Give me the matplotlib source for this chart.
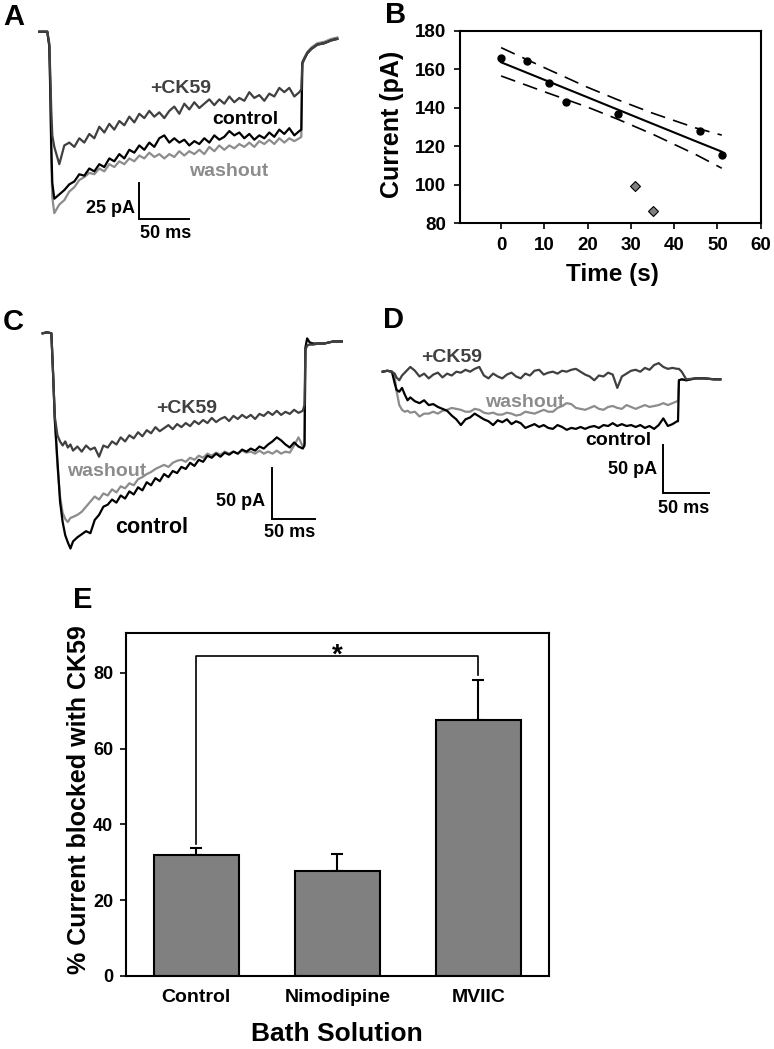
import matplotlib
matplotlib.use('Agg')
import matplotlib.pyplot as plt

# === DATA ===
# Panel A traces: time (ms) and current (pA)
T_A = [0, 4, 8, 10, 11, 12, 13,
       15, 20, 25, 30, 35, 40, 45, 50, 55, 60,
       65, 70, 75, 80, 85, 90, 95, 100, 105, 110,
       115, 120, 125, 130, 135, 140, 145, 150, 155, 160,
       165, 170, 175, 180, 185, 190, 195, 200, 205, 210,
       215, 220, 225, 230, 235, 240, 245, 250, 255, 260,
       262, 263, 265, 268, 272, 278, 285, 292, 298]
CK59_A = [0, 0, 0, -8, -30, -55, -72,
          -80, -92, -79, -77, -80, -74, -77, -71, -74, -66,
          -70, -64, -68, -62, -65, -59, -63, -57, -60, -55,
          -59, -56, -60, -55, -52, -57, -50, -54, -49, -53,
          -50, -47, -51, -47, -50, -45, -49, -46, -48, -42,
          -46, -44, -48, -43, -45, -39, -42, -39, -45, -42,
          -40, -22, -19, -15, -12, -9, -8, -6, -5]
CTRL_A = [0, 0, 0, -10, -40, -80, -105,
          -116, -113, -110, -106, -104, -99, -100, -95, -97, -92,
          -94, -88, -90, -85, -88, -82, -84, -79, -82, -77,
          -80, -74, -72, -77, -74, -77, -75, -79, -76, -78,
          -74, -77, -72, -75, -73, -69, -72, -70, -74, -71,
          -75, -72, -74, -70, -73, -68, -71, -67, -72, -69,
          -68, -22, -19, -15, -12, -9, -8, -6, -5]
WASH_A = [0, 0, 0, -10, -45, -90, -115,
          -126, -120, -117, -111, -108, -103, -101, -98, -99, -95,
          -97, -92, -94, -90, -92, -88, -90, -86, -88, -84,
          -87, -85, -88, -85, -87, -83, -86, -83, -85, -82,
          -85, -80, -83, -79, -82, -79, -81, -78, -80, -77,
          -80, -76, -78, -75, -78, -74, -77, -74, -76, -74,
          -73, -21, -18, -14, -11, -8, -7, -5, -4]

# Panel C traces
T_C = [0, 5, 10, 12, 14, 17, 20, 23, 26, 29, 32, 35,
       40, 45, 50, 55, 60, 65, 70, 75, 80, 85,
       90, 95, 100, 105, 110, 115, 120, 125, 130, 135,
       140, 145, 150, 155, 160, 165, 170, 175, 180, 185,
       190, 195, 200, 205, 210, 215, 220, 225, 230, 235,
       240, 245, 250, 255, 260, 265, 270, 275, 280, 285,
       290, 295, 300,
       302, 303, 305, 308, 312, 318, 325, 335, 345]
CK59_C = [0, 1, 0, -40, -82, -100, -106, -110, -106, -112, -109, -115,
          -111, -116, -110, -114, -112, -121, -110, -112, -106, -109,
          -102, -106, -100, -103, -97, -101, -95, -98, -92, -96,
          -93, -90, -94, -89, -92, -88, -91, -86, -89, -85,
          -88, -83, -87, -84, -82, -86, -81, -84, -80, -83,
          -80, -84, -79, -81, -77, -80, -76, -80, -77, -79,
          -75, -78, -76,
          -70, -16, -12, -11, -11, -10, -10, -8, -8]
CTRL_C = [0, 1, 0, -40, -85, -125, -165, -185, -198, -205, -211, -204,
          -200, -197, -194, -196, -183, -178, -170, -168, -163, -166,
          -159, -162, -155, -158, -151, -154, -146, -149, -142, -145,
          -138, -141, -135, -137, -131, -133, -127, -130, -124, -126,
          -120, -122, -118, -121, -117, -119, -116, -118, -114, -116,
          -113, -115, -111, -113, -109, -106, -102, -105, -109, -112,
          -107, -111, -113,
          -110, -14, -5, -9, -10, -10, -10, -8, -8]
WASH_C = [0, 1, 0, -40, -85, -130, -160, -176, -182, -185, -181, -180,
          -178, -175, -170, -165, -160, -163, -157, -159, -153, -156,
          -150, -152, -147, -149, -143, -141, -138, -136, -133, -131,
          -129, -131, -127, -125, -124, -126, -122, -124, -120, -122,
          -118, -120, -117, -119, -116, -118, -116, -118, -115, -117,
          -116, -118, -115, -118, -116, -118, -115, -118, -116, -117,
          -110, -102, -111,
          -108, -16, -12, -11, -11, -10, -10, -8, -8]

# Panel D traces
T_D = [0, 5, 10, 13, 15, 18, 21, 24, 27, 30,
       35, 40, 45, 50, 55, 60, 65, 70, 75, 80,
       85, 90, 95, 100, 105, 110, 115, 120, 125, 130,
       135, 140, 145, 150, 155, 160, 165, 170, 175, 180,
       185, 190, 195, 200, 205, 210, 215, 220, 225, 230,
       235, 240, 245, 250, 255, 260, 265, 270, 275, 280,
       285, 290, 295, 300, 305, 310, 315, 320,
       321, 322, 325, 330, 340, 350, 360, 367]
CK59_D = [0, 1, 0, -2, -6, -9, -4, -1, 2, 5,
          1, -5, -2, -7, -3, -1, -6, -2, -4, 0,
          -1, 2, 0, 3, 5, -4, -7, -2, -5, -7,
          -3, -1, -5, -7, -2, -4, 1, 2, -3, -1,
          0, -2, 1, 0, 2, 3, 0, -3, -5, -9,
          -4, -5, -1, -3, -17, -5, -2, 1, 2, 0,
          4, 2, 7, 9, 5, 3, 4, 3,
          3, 3, 0, -8, -7, -7, -8, -8]
CTRL_D = [0, 1, 0, -12, -19, -21, -17, -24, -30, -27,
          -31, -33, -30, -35, -34, -37, -39, -41, -46, -50,
          -56, -50, -48, -44, -47, -50, -52, -56, -51, -53,
          -50, -55, -52, -54, -59, -57, -55, -58, -56, -59,
          -60, -56, -58, -61, -59, -60, -58, -60, -58, -57,
          -59, -56, -57, -54, -57, -55, -57, -56, -58, -56,
          -59, -57, -60, -56, -49, -57, -55, -52,
          -52, -9, -8, -9, -7, -7, -8, -8]
WASH_D = [0, 1, 0, -5, -20, -35, -40, -42, -41, -43,
          -42, -47, -44, -44, -42, -44, -41, -40, -38, -39,
          -40, -42, -42, -39, -40, -43, -44, -43, -45, -45,
          -43, -44, -46, -45, -42, -43, -44, -42, -40, -42,
          -42, -38, -36, -33, -34, -38, -39, -40, -38, -36,
          -39, -40, -37, -36, -38, -39, -35, -37, -39, -37,
          -35, -37, -36, -35, -33, -35, -33, -31,
          -31, -9, -8, -9, -7, -7, -8, -8]

# Scale bars (ms, pA)
SCALE_A = (50, 25)
SCALE_C = (50, 50)
SCALE_D = (50, 50)

# Panel B: current vs time
B_TIME = [0, 6, 11, 15, 27, 46, 51]
B_CURRENT = [165.7, 164.4, 152.8, 143.2, 136.8, 128.1, 115.5]
B_TIME_OUT = [31, 35]
B_CURRENT_OUT = [99.4, 86.3]
FIT_T = [0, 10, 20, 27, 35, 45, 51]
FIT_MID = [163.6, 154.5, 145.4, 139.0, 131.7, 122.6, 117.2]
FIT_UP = [171.2, 160.8, 150.6, 144.1, 137.2, 129.5, 125.8]
FIT_LO = [156.5, 148.3, 140.3, 134.0, 126.3, 115.7, 108.6]

# Panel E: % current blocked
E_GROUPS = ['Control', 'Nimodipine', 'MVIIC']
E_MEAN = [31.8, 27.7, 67.5]
E_SEM = [2.0, 4.6, 10.5]
E_BRACKET_Y = 84.4
# =============

plt.rcParams['font.family'] = ['Liberation Sans', 'DejaVu Sans']
plt.rcParams['font.weight'] = 'bold'
NARROW = ['Liberation Sans Narrow', 'Liberation Sans', 'DejaVu Sans']

DARK = '#404040'
GRAY = '#8c8c8c'
W, H = 774, 1049
fig = plt.figure(figsize=(W / 100, H / 100), dpi=100)


def px_axes(x0, y0, x1, y1):
    return fig.add_axes([x0 / W, 1 - y1 / H, (x1 - x0) / W, (y1 - y0) / H])


def trace_panel(x0, y0, x1, y1, tx0, sx, iy0, sy):
    # tx0/iy0: pixel of t=0 / I=0, sx/sy: pixels per ms / per pA
    ax = px_axes(x0, y0, x1, y1)
    ax.set_xlim((x0 - tx0) / sx, (x1 - tx0) / sx)
    ax.set_ylim(-(y1 - iy0) / sy, -(y0 - iy0) / sy)
    ax.axis('off')
    return ax


def draw_traces(ax, t, ctrl, wash, ck):
    ax.plot(t, wash, color=GRAY, lw=1.6)
    ax.plot(t, ctrl, color='black', lw=1.6)
    ax.plot(t, ck, color=DARK, lw=1.6)


def scale_bar(ax, t0, i0, scale, ylab_t, ylab_i, xlab_t, xlab_i):
    dt, di = scale
    ax.plot([t0, t0, t0 + dt], [i0 + di, i0, i0], color='black', lw=1.4,
            solid_joinstyle='miter')
    ax.text(ylab_t, ylab_i, f'{di} pA', ha='right', va='center', fontsize=13)
    ax.text(xlab_t, xlab_i, f'{dt} ms', ha='center', va='top', fontsize=13)


# --- Panel A ---
axA = trace_panel(30, 20, 350, 240, 39.3, 1.0, 31.7, 1.44)
draw_traces(axA, T_A, CTRL_A, WASH_A, CK59_A)
scale_bar(axA, 99.3, -130.3, SCALE_A, 95.5, -122.7, 126, -134)
axA.text(141, -39.4, '+CK59', color=DARK, ha='center', va='center', fontsize=14)
axA.text(206, -61.3, 'control', color='black', ha='center', va='center', fontsize=14)
axA.text(189, -97, 'washout', color=GRAY, ha='center', va='center', fontsize=14)

# --- Panel C ---
axC = trace_panel(30, 320, 360, 560, 42.7, 0.867, 333.3, 1.02)
draw_traces(axC, T_C, CTRL_C, WASH_C, CK59_C)
scale_bar(axC, 264, -182.4, SCALE_C, 256.4, -165, 285, -187)
axC.text(166, -73.5, '+CK59', color=DARK, ha='center', va='center', fontsize=14)
axC.text(74, -135.6, 'washout', color=GRAY, ha='center', va='center', fontsize=14)
axC.text(126, -190.5, 'control', color='black', ha='center', va='center', fontsize=15.5)

# --- Panel D ---
axD = trace_panel(375, 340, 760, 520, 382.7, 0.92, 371.7, 0.953)
draw_traces(axD, T_D, CTRL_D, WASH_D, CK59_D)
scale_bar(axD, 305, -127, SCALE_D, 297.8, -103, 327, -135)
axD.text(75, 15, '+CK59', color=DARK, ha='center', va='center', fontsize=14)
axD.text(154.7, -32, 'washout', color=GRAY, ha='center', va='center', fontsize=14)
axD.text(256, -71.7, 'control', color='black', ha='center', va='center', fontsize=14)

# --- Panel B ---
axB = px_axes(460, 30.7, 760.7, 223.3)
axB.plot(FIT_T, FIT_MID, color='black', lw=1.5)
axB.plot(FIT_T, FIT_UP, color='black', lw=1.2, linestyle=(0, (9, 5)))
axB.plot(FIT_T, FIT_LO, color='black', lw=1.2, linestyle=(0, (9, 5)))
axB.plot(B_TIME, B_CURRENT, 'o', color='black', markersize=5)
axB.plot(B_TIME_OUT, B_CURRENT_OUT, 'D', markerfacecolor='#808080',
         markeredgecolor='black', markeredgewidth=0.8, markersize=5.5)
axB.set_xlim(-9.5, 60)
axB.set_ylim(80, 180)
axB.set_xticks(range(0, 61, 10))
axB.set_yticks(range(80, 181, 20))
axB.tick_params(direction='out', length=4, width=1.2, labelsize=13.5, pad=6)
for s in axB.spines.values():
    s.set_linewidth(1.5)
fig.text(392 / W, 1 - 124 / H, 'Current (pA)', rotation=90, ha='center',
         va='center', fontsize=18)
fig.text(612 / W, 1 - 275 / H, 'Time (s)', ha='center', va='center', fontsize=17.5)

# --- Panel E ---
axE = px_axes(125.7, 633, 549, 976)
xs = range(len(E_GROUPS))
axE.bar(xs, E_MEAN, width=0.6, color='#808080', edgecolor='black', linewidth=1.5,
        zorder=2)
axE.errorbar(xs, E_MEAN, yerr=[[0] * len(E_SEM), E_SEM], fmt='none',
             ecolor='black', elinewidth=1.5, capsize=4, capthick=1.5, zorder=1)
top0 = E_MEAN[0] + E_SEM[0]
top2 = E_MEAN[2] + E_SEM[2]
axE.plot([0, 0, 2, 2], [top0 + 1, E_BRACKET_Y, E_BRACKET_Y, top2 + 1.5],
         color='black', lw=1.2)
axE.text(1, 82.6, '*', ha='center', va='baseline', fontsize=20)
axE.set_xlim(-0.5, 2.5)
axE.set_ylim(0, 90.5)
axE.set_yticks(range(0, 81, 20))
axE.set_xticks(list(xs))
axE.set_xticklabels(E_GROUPS, family=NARROW, fontsize=14)
for lab in axE.get_yticklabels():
    lab.set_family(NARROW)
axE.tick_params(axis='y', direction='out', length=4, width=1.2, labelsize=13, pad=5)
axE.tick_params(axis='x', length=0, pad=9)
for s in axE.spines.values():
    s.set_linewidth(1.5)
fig.text(79 / W, 1 - 800 / H, '% Current blocked with CK59', rotation=90,
         ha='center', va='center', fontsize=18)
fig.text(337 / W, 1 - 1034 / H, 'Bath Solution', ha='center', va='center',
         fontsize=19, family=NARROW)

# panel letters
for letter, x, y in [('A', 3, 25), ('B', 385, 23), ('C', 3, 330),
                     ('D', 383, 328), ('E', 73, 608)]:
    fig.text(x / W, 1 - y / H, letter, ha='left', va='baseline', fontsize=21)

fig.savefig('out.png', dpi=100)
